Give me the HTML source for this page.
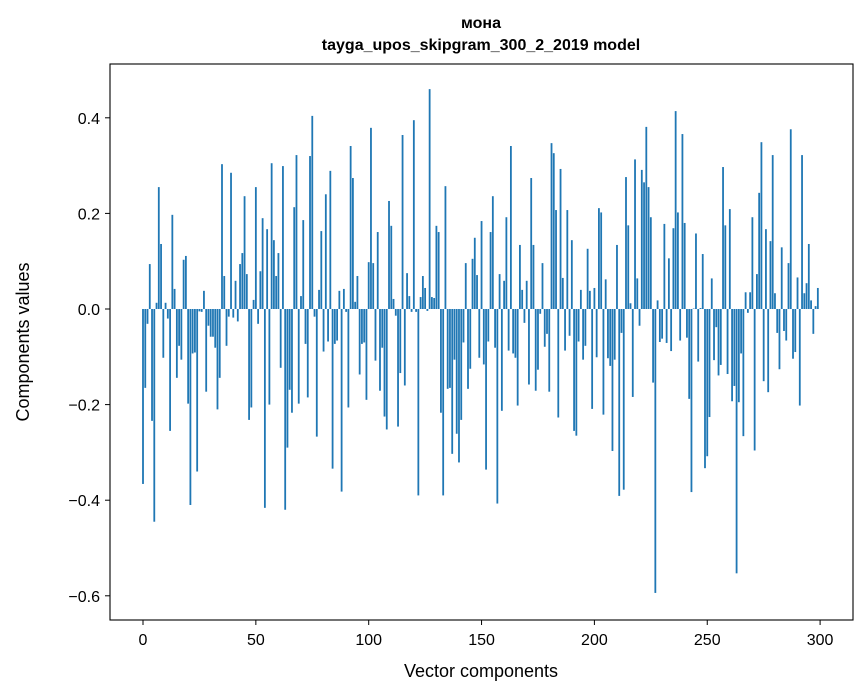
<!DOCTYPE html>
<html><head><meta charset="utf-8"><style>
html,body{margin:0;padding:0;background:#fff;}
svg{display:block;font-family:"Liberation Sans","DejaVu Sans",sans-serif;}
</style></head><body>
<svg id="chart" width="867" height="696" viewBox="0 0 867 696">
<text x="481" y="28" text-anchor="middle" font-size="16" font-weight="bold">мона</text>
<text x="481" y="50" text-anchor="middle" font-size="16" font-weight="bold">tayga_upos_skipgram_300_2_2019 model</text>
<g id="bars"></g>
<rect x="110" y="64" width="743" height="556" fill="none" stroke="#000" stroke-width="1.1"/>
<g id="xticks"></g>
<g id="yticks"></g>
<text x="481" y="677" text-anchor="middle" font-size="18">Vector components</text>
<text transform="translate(29,342) rotate(-90)" text-anchor="middle" font-size="18">Components values</text>
</svg>
<script>
const values = [
-0.366,-0.165,-0.031,0.094,-0.234,-0.445,0.013,0.255,0.136,-0.102,
0.013,-0.02,-0.255,0.197,0.042,-0.144,-0.077,-0.106,0.103,0.111,
-0.198,-0.41,-0.093,-0.091,-0.34,-0.005,-0.006,0.038,-0.173,-0.035,
-0.058,-0.058,-0.081,-0.21,-0.144,0.303,0.069,-0.077,-0.016,0.285,
-0.018,0.059,-0.026,0.094,0.117,0.236,0.073,-0.232,-0.206,0.019,
0.255,-0.031,0.079,0.19,-0.416,0.167,-0.2,0.305,0.144,0.069,
0.117,-0.123,0.299,-0.42,-0.29,-0.169,-0.217,0.213,0.322,-0.198,
0.027,0.186,-0.073,-0.185,0.32,0.404,-0.016,-0.267,0.04,0.163,
-0.089,0.24,-0.068,0.289,-0.334,-0.073,-0.066,0.038,-0.382,0.042,
-0.006,-0.206,0.341,0.274,0.015,0.069,-0.137,-0.073,-0.07,-0.19,
0.098,0.379,0.096,-0.108,0.161,-0.171,-0.081,-0.225,-0.252,0.226,
0.174,0.021,-0.014,-0.246,-0.134,0.364,-0.16,0.075,0.027,-0.006,
0.395,-0.006,-0.39,0.025,0.069,0.044,-0.004,0.46,0.025,0.023,
0.174,0.161,-0.217,-0.39,0.257,-0.167,-0.165,-0.303,-0.106,-0.261,
-0.321,-0.232,-0.07,0.096,-0.167,-0.125,0.105,0.149,0.071,-0.102,
0.184,-0.116,-0.336,-0.068,0.161,0.236,-0.081,-0.407,0.073,-0.213,
0.059,0.192,-0.087,0.341,-0.093,-0.102,-0.202,0.134,0.04,-0.029,
0.059,-0.158,0.274,0.134,-0.171,-0.127,-0.01,0.096,-0.079,-0.052,
-0.173,0.347,0.326,0.207,-0.227,0.293,0.065,-0.087,0.207,-0.056,
0.144,-0.255,-0.265,-0.068,0.04,-0.106,-0.077,0.126,0.038,-0.209,
0.044,-0.101,0.211,0.202,-0.221,0.062,-0.103,-0.119,-0.297,-0.106,
0.134,-0.391,-0.05,-0.378,0.276,0.175,0.012,-0.184,0.313,0.064,
-0.035,0.291,0.265,0.381,0.255,0.192,-0.154,-0.594,0.018,-0.069,
-0.062,0.178,-0.071,0.106,-0.088,0.169,0.414,0.202,-0.066,0.366,
0.18,-0.06,-0.188,-0.383,0.001,0.158,-0.11,0.002,0.115,-0.333,
-0.308,-0.226,0.064,-0.107,-0.038,-0.139,-0.117,0.297,0.175,-0.136,
0.209,-0.193,-0.161,-0.553,-0.195,-0.093,-0.266,0.035,-0.008,0.035,
0.192,-0.296,0.073,0.243,0.349,-0.151,0.167,-0.174,0.142,0.322,
0.033,-0.05,-0.126,0.129,-0.046,-0.066,0.096,0.376,-0.104,-0.09,
0.066,-0.202,0.322,0.033,0.054,0.136,0.018,-0.052,0.006,0.044
];
const xTicks = [0,50,100,150,200,250,300];
const yTicks = [-0.6,-0.4,-0.2,0.0,0.2,0.4];
const yTickLabels = ["\u22120.6","\u22120.4","\u22120.2","0.0","0.2","0.4"];

const NS = "http://www.w3.org/2000/svg";
function xs(i){ return 143 + 2.257*i; }
function ys(v){ return 309 - 478*v; }

const gb = document.getElementById('bars');
values.forEach((v,i)=>{
  const r = document.createElementNS(NS,'rect');
  const y0 = ys(0), y1 = ys(v);
  r.setAttribute('x', xs(i)-0.9);
  r.setAttribute('width', 1.8);
  r.setAttribute('y', Math.min(y0,y1));
  r.setAttribute('height', Math.max(Math.abs(y1-y0),0.3));
  r.setAttribute('fill','#1f77b4');
  
  
  gb.appendChild(r);
});
const gx = document.getElementById('xticks');
xTicks.forEach(t=>{
  const l = document.createElementNS(NS,'line');
  l.setAttribute('x1',xs(t)); l.setAttribute('x2',xs(t));
  l.setAttribute('y1',620); l.setAttribute('y2',625);
  l.setAttribute('stroke','#000');
  
  
  gx.appendChild(l);
  const tx = document.createElementNS(NS,'text');
  tx.setAttribute('x',xs(t)); tx.setAttribute('y',645);
  tx.setAttribute('text-anchor','middle'); tx.setAttribute('font-size','16');
  tx.textContent = t;
  
  
  gx.appendChild(tx);
});
const gy = document.getElementById('yticks');
yTicks.forEach((t,k)=>{
  const l = document.createElementNS(NS,'line');
  l.setAttribute('x1',105); l.setAttribute('x2',110);
  l.setAttribute('y1',ys(t)); l.setAttribute('y2',ys(t));
  l.setAttribute('stroke','#000');
  
  
  gy.appendChild(l);
  const tx = document.createElementNS(NS,'text');
  tx.setAttribute('x',100); tx.setAttribute('y',ys(t)+6);
  tx.setAttribute('text-anchor','end'); tx.setAttribute('font-size','16');
  tx.textContent = yTickLabels[k];
  
  
  gy.appendChild(tx);
});
</script>
</body></html>
